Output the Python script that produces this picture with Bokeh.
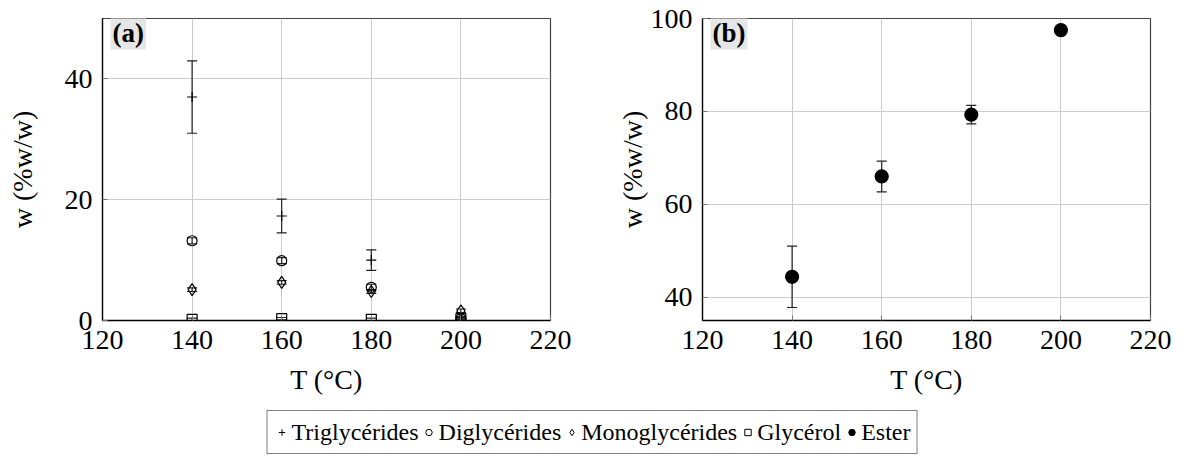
import math
from bokeh.plotting import figure
from bokeh.models import (ColumnDataSource, Whisker, TeeHead, FixedTicker,
                          Label, Range1d, Legend, LegendItem)
from bokeh.layouts import column, row
from bokeh.embed import file_html
from bokeh.resources import INLINE

# ---- data ----
temps = [140, 160, 180, 200]
x_ticks = [120, 140, 160, 180, 200, 220]
ya_ticks = [0, 20, 40]
yb_ticks = [40, 60, 80, 100]

tri = [37.0, 17.3, 10.0, 0.4]
tri_err = [6.0, 2.8, 1.7, 0.3]
di = [13.2, 9.9, 5.5, 0.3]
di_err = [0.5, 0.5, 0.5, 0.3]
mono = [5.1, 6.3, 4.8, 1.6]
mono_err = [0.3, 0.3, 0.3, 0.3]
gly = [0.2, 0.3, 0.2, 0.3]
gly_err = [0.2, 0.2, 0.2, 0.2]
ester = [44.4, 66.0, 79.3, 97.5]
ester_err = [6.6, 3.3, 2.0, 0.0]

labels = ["Triglycérides", "Diglycérides", "Monoglycérides", "Glycérol", "Ester"]
markers = ["cross", "circle", "diamond", "square", "circle"]

FONT = "Liberation Serif"
GRID = "#cccccc"


def make_fig(y0, y1, yticks, bl, br, tag, ylab_standoff):
    p = figure(width=bl + 448 + br, height=18 + 302 + 88,
               x_range=Range1d(120, 220), y_range=Range1d(y0, y1),
               output_backend="svg", toolbar_location=None,
               min_border_left=bl, min_border_right=br,
               min_border_top=18, min_border_bottom=88)
    p.frame_width = 448
    p.frame_height = 302
    p.background_fill_color = "white"
    p.border_fill_color = "white"
    p.outline_line_color = "#444444"
    p.outline_line_width = 1.2
    p.xaxis.ticker = FixedTicker(ticks=x_ticks)
    p.yaxis.ticker = FixedTicker(ticks=yticks)
    for ax in (p.xaxis[0], p.yaxis[0]):
        ax.major_tick_in = 5
        ax.major_tick_out = 0
        ax.minor_tick_in = 0
        ax.minor_tick_out = 0
        ax.major_tick_line_color = "#777777"
        ax.axis_line_color = "black"
        ax.axis_line_width = 1.3
        ax.major_label_text_font = FONT
        ax.major_label_text_font_size = "28px"
        ax.major_label_text_color = "black"
        ax.axis_label_text_font = FONT
        ax.axis_label_text_font_size = "28px"
        ax.axis_label_text_font_style = "normal"
        ax.axis_label_text_color = "black"
    p.xaxis.major_label_standoff = 10
    p.yaxis.major_label_standoff = 10
    p.xaxis.axis_label = "T (°C)"
    p.xaxis.axis_label_standoff = 12
    p.yaxis.axis_label = "w (%w/w)"
    p.yaxis.axis_label_standoff = ylab_standoff
    p.grid.grid_line_color = GRID
    p.grid.grid_line_width = 1
    p.add_layout(Label(x=8, y=305, x_units="screen", y_units="screen", text=tag,
                       text_align="left", text_baseline="top", text_font=FONT,
                       text_font_size="27px", text_font_style="bold",
                       text_color="black",
                       background_fill_color="#e6e6e6", padding=2))
    return p


def add_series(p, xs, ys, errs, marker, size, fill):
    src = ColumnDataSource(dict(x=xs, y=ys,
                                lo=[a - b for a, b in zip(ys, errs)],
                                hi=[a + b for a, b in zip(ys, errs)]))
    w = Whisker(source=src, base="x", lower="lo", upper="hi", dimension="height",
                line_color="#222222", line_width=1.2,
                lower_head=TeeHead(size=10, line_color="#222222", line_width=1.2),
                upper_head=TeeHead(size=10, line_color="#222222", line_width=1.2))
    p.add_layout(w)
    p.scatter("x", "y", source=src, marker=marker, size=size, line_color="black",
              line_width=1.2, fill_color="black" if fill else None)


pa = make_fig(0, 50, ya_ticks, 102, 40, "(a)", 24)
add_series(pa, temps, tri, tri_err, "cross", 10, False)
add_series(pa, temps, di, di_err, "circle", 10, False)
add_series(pa, temps, mono, mono_err, "diamond", 12, False)
add_series(pa, temps, gly, gly_err, "square", 10, False)

pb = make_fig(35, 100, yb_ticks, 112, 34, "(b)", 0)
add_series(pb, temps, ester, ester_err, "circle", 13, True)

# ---- legend figure ----
pl = figure(width=1184, height=48, output_backend="svg", toolbar_location=None,
            x_range=Range1d(0, 1), y_range=Range1d(0, 1),
            min_border=0, min_border_left=0, min_border_right=0,
            min_border_top=0, min_border_bottom=0)
pl.axis.visible = False
pl.grid.visible = False
pl.outline_line_color = None
items = []
for lab, mk in zip(labels, markers):
    r = pl.scatter(x=[-10], y=[-10], marker=mk, line_color="black", line_width=1,
                   fill_color="black" if lab == "Ester" else None)
    items.append(LegendItem(label=lab, renderers=[r]))
leg = Legend(items=items, orientation="horizontal", location="center",
             label_text_font=FONT, label_text_font_size="24px",
             label_text_color="black",
             glyph_width=16, glyph_height=30, label_standoff=2, spacing=2,
             padding=6, margin=0, border_line_color="black", border_line_width=1,
             background_fill_alpha=0)
pl.add_layout(leg, "center")

layout = column(row(pa, pb), pl)
open("out.html", "w").write(file_html(layout, INLINE))
